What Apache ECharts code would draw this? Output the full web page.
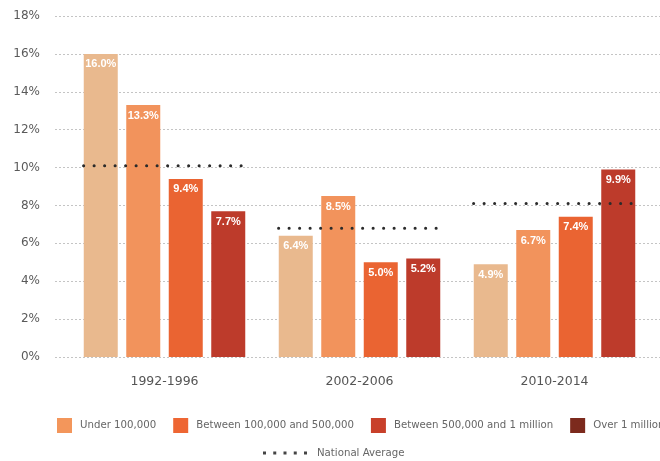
<!DOCTYPE html>
<html><head><meta charset="utf-8">
<script src="https://cdn.jsdelivr.net/npm/echarts@6/dist/echarts.min.js"></script>
<style>html,body{margin:0;padding:0;background:#fff}#c{width:660px;height:461px}</style>
</head><body><div id="c"></div>
<script>
const categories = ['1992-1996', '2002-2006', '2010-2014'];
const seriesNames = ['Under 100,000', 'Between 100,000 and 500,000', 'Between 500,000 and 1 million', 'Over 1 million'];
const under100k = [16.0, 6.4, 4.9];
const between100k500k = [13.3, 8.5, 6.7];
const between500k1m = [9.4, 5.0, 7.4];
const over1m = [7.7, 5.2, 9.9];
const nationalAverage = [10.1, 6.8, 8.1];
const yTicks = [0, 2, 4, 6, 8, 10, 12, 14, 16, 18];

const barColors = ['#E9B98E', '#F2935C', '#EA6432', '#BD3B2B'];
const legendColors = ['#F3965B', '#EE6633', '#C8402A', '#7C2A1D'];
const values = [under100k, between100k500k, between500k1m, over1m];

const font = '"DejaVu Sans", sans-serif';

const barSeries = values.map((v, i) => ({
  name: seriesNames[i], type: 'bar', xAxisIndex: 1, yAxisIndex: 1,
  data: v, barWidth: 34, barGap: '25%',
  itemStyle: { color: barColors[i] },
  label: { show: true, position: 'insideTop', distance: 5, color: '#fff', fontWeight: 'bold',
    fontSize: 11, fontFamily: 'Arial, "Liberation Sans", sans-serif', formatter: p => p.value.toFixed(1) + '%' }
}));

const avgSeries = {
  name: 'National Average', type: 'custom', xAxisIndex: 1, yAxisIndex: 1,
  data: nationalAverage.map((v, i) => [i, v]),
  z: 5,
  renderItem: (params, api) => {
    const c = api.coord([api.value(0), api.value(1)]);
    const w = api.size([1, 0])[0] * 0.83;
    return { type: 'line', shape: { x1: c[0] - w / 2, y1: c[1], x2: c[0] + w / 2, y2: c[1] },
      style: { stroke: '#2b2b2b', lineWidth: 3, lineDash: [0.1, 10.4], lineCap: 'round' } };
  }
};

const chart = echarts.init(document.getElementById('c'));
chart.setOption({
  animation: false,
  grid: [
    { left: 55, right: 0, top: 16, bottom: 104 },
    { left: 67, right: 8, top: 16, bottom: 104 }
  ],
  xAxis: [
    { gridIndex: 0, type: 'value', show: false, min: 0, max: 1 },
    { gridIndex: 1, type: 'category', data: categories,
      axisLine: { show: false }, axisTick: { show: false },
      axisLabel: { color: '#555', fontSize: 12.5, fontFamily: font, margin: 18 } }
  ],
  yAxis: [
    { gridIndex: 0, type: 'value', min: 0, max: 18, interval: 2,
      axisLine: { show: false }, axisTick: { show: false },
      axisLabel: { color: '#5a5a5a', fontSize: 12, fontFamily: font, margin: 15,
        formatter: v => yTicks.includes(v) ? v + '%' : '' },
      splitLine: { lineStyle: { color: '#c4c4c4', type: [2, 2], width: 1 } } },
    { gridIndex: 1, type: 'value', min: 0, max: 18, interval: 2, show: false, splitLine: { show: false } }
  ],
  legend: [
    { left: 57, top: 418, width: 900, padding: 0, itemWidth: 15, itemHeight: 15, itemGap: 17,
      textStyle: { color: '#666', fontSize: 10.2, fontFamily: font, padding: [0, 0, 0, 3] },
      data: seriesNames.map((n, i) => ({ name: n, icon: 'rect', itemStyle: { color: legendColors[i] } })) },
    { left: 263, top: 448, width: 400, padding: 0, itemWidth: 44, itemHeight: 3, itemGap: 10,
      textStyle: { color: '#666', fontSize: 10.2, fontFamily: font, padding: [0, 0, 0, 5] },
      data: [{ name: 'National Average',
        icon: 'path://M0,0h3v3h-3z M10.25,0h3v3h-3z M20.5,0h3v3h-3z M30.75,0h3v3h-3z M41,0h3v3h-3z',
        itemStyle: { color: '#444' } }] }
  ],
  series: [...barSeries, avgSeries]
});
</script></body></html>
